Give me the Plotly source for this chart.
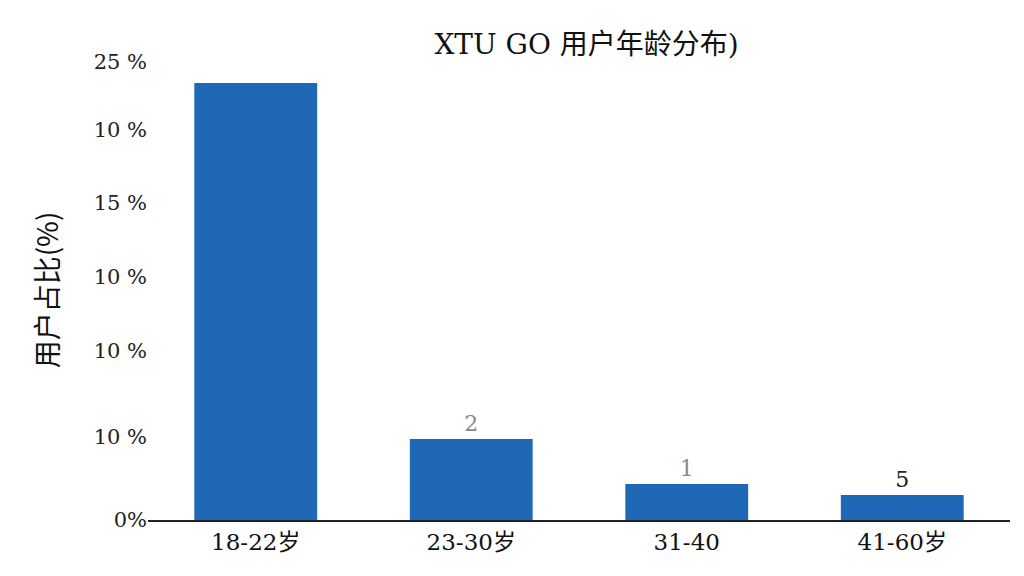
import plotly.graph_objects as go

# age groups and share of users
ages = ["18-22岁", "23-30岁", "31-40", "41-60岁"]
share = [23.85, 4.42, 1.97, 1.36]
bar_labels = ["", "2", "1", "5"]
label_colors = ["#888888", "#888888", "#888888", "#222222"]

# tick positions and the (odd) labels printed on them
tick_vals = [0, 4.53, 9.22, 13.26, 17.3, 21.29, 25]
tick_text = ["0%", "10 %", "10 %", "10 %", "15 %", "10 %", "25 %"]

fig = go.Figure()
fig.add_trace(go.Bar(x=ages, y=share, width=0.57,
                     marker=dict(color="#1f68b5", line=dict(width=0)),
                     text=bar_labels, textposition="outside",
                     textfont=dict(size=22, color=label_colors, family="DejaVu Serif"),
                     cliponaxis=False))

fig.update_layout(
    width=1024, height=576,
    margin=dict(l=140, r=22, t=52, b=64),
    plot_bgcolor="white", paper_bgcolor="white",
    title=dict(text="XTU GO 用户年龄分布)", x=0.565, y=0.955, xanchor="center",
               font=dict(size=28, color="#111", family="DejaVu Serif, Noto Sans CJK SC")),
    showlegend=False,
)
fig.update_xaxes(showline=True, linecolor="#222", linewidth=2, ticks="",
                 tickfont=dict(size=23, color="#111", family="DejaVu Serif, Noto Sans CJK SC"))
fig.update_yaxes(range=[0, 25.1], tickvals=tick_vals, ticktext=tick_text,
                 showgrid=False, zeroline=False,
                 tickfont=dict(size=21, color="#222", family="DejaVu Serif"),
                 title=dict(text="用户占比(%)", standoff=26,
                            font=dict(size=28, color="#111", family="Noto Sans CJK SC")))

fig.write_html("out.html")
